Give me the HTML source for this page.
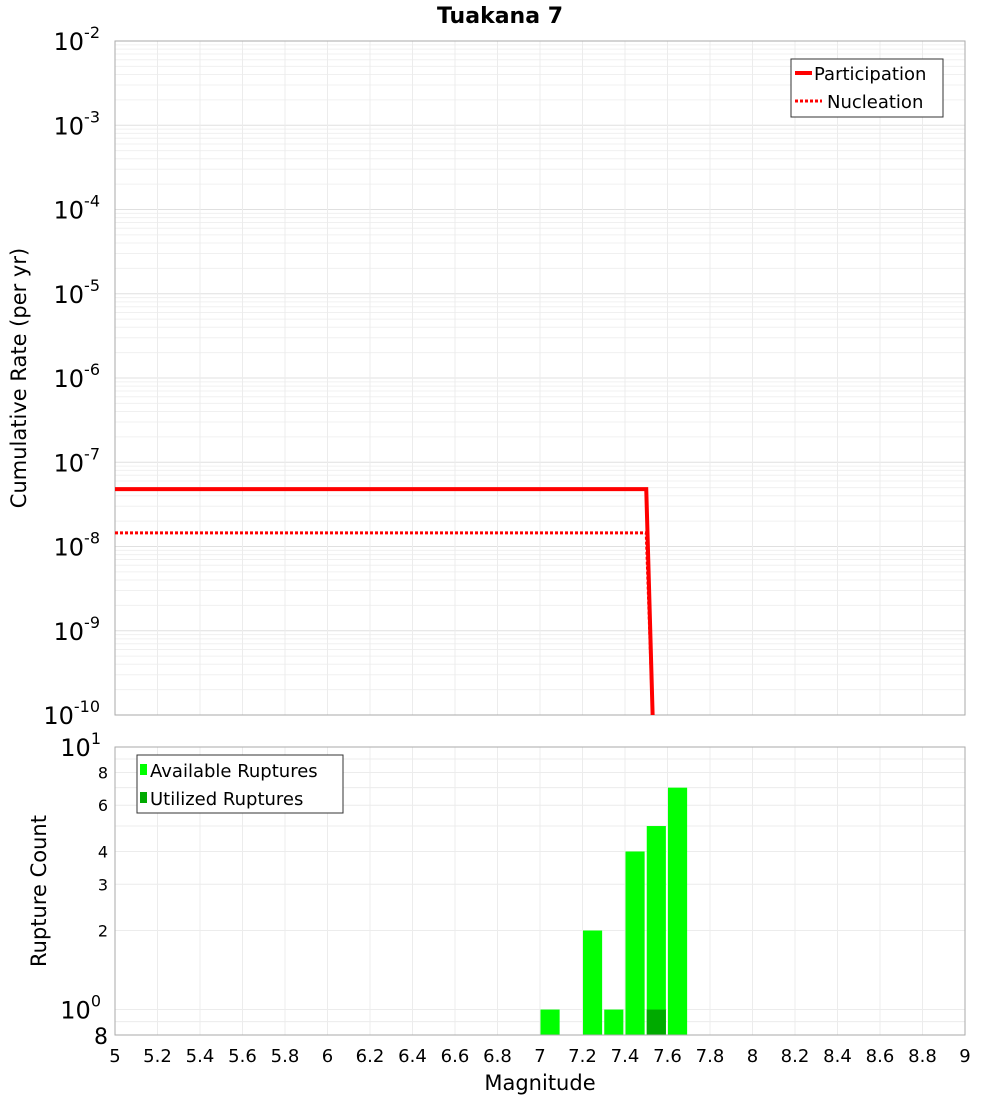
<!DOCTYPE html>
<html><head><meta charset="utf-8"><style>
body{margin:0;background:#fff;font-family:"Liberation Sans","DejaVu Sans",sans-serif}
</style></head><body>
<svg id="c" width="1000" height="1100" xmlns="http://www.w3.org/2000/svg" font-family="DejaVu Sans, Liberation Sans, sans-serif">
<text x="500" y="23" text-anchor="middle" font-size="22" font-weight="bold">Tuakana 7</text>
<g id="topg"></g>
<g id="botg"></g>
<text transform="translate(26,378) rotate(-90)" text-anchor="middle" font-size="21">Cumulative Rate (per yr)</text>
<text transform="translate(46,891) rotate(-90)" text-anchor="middle" font-size="21">Rupture Count</text>
<text x="540" y="1090" text-anchor="middle" font-size="21">Magnitude</text>
<g>
<rect x="791" y="59" width="152" height="58" fill="#fff" stroke="#333"/>
<line x1="795" y1="73" x2="812" y2="73" stroke="red" stroke-width="4"/>
<text x="814" y="80" font-size="18">Participation</text>
<line x1="795" y1="101" x2="822" y2="101" stroke="red" stroke-width="3" stroke-dasharray="3,2"/>
<text x="827" y="108" font-size="18">Nucleation</text>
</g>
<g>
<rect x="137" y="755" width="206" height="58" fill="#fff" stroke="#333"/>
<rect x="140" y="764" width="7" height="11" fill="#00ff00"/>
<text x="150" y="777" font-size="18">Available Ruptures</text>
<rect x="140" y="792" width="7" height="11" fill="#00aa00"/>
<text x="150" y="805" font-size="18">Utilized Ruptures</text>
</g>
</svg>
<script>
const partMag=[5.0,7.5,7.53];
const partRate=[4.8e-8,4.8e-8,1e-10];
const nuclMag=[5.0,7.5,7.53];
const nuclRate=[1.45e-8,1.45e-8,1e-10];
const binStart=[7.0,7.2,7.3,7.4,7.5,7.6];
const available=[1,2,1,4,5,7];
const utilized=[0,0,0,0,1,0];
const xTicks=[5,5.2,5.4,5.6,5.8,6,6.2,6.4,6.6,6.8,7,7.2,7.4,7.6,7.8,8,8.2,8.4,8.6,8.8,9];
const countTicks=[2,3,4,6,8];
const NS="http://www.w3.org/2000/svg";
const X0=115,X1=965;
const xs=m=>X0+(m-5)/4*(X1-X0);
const T0=41,T1=715;
const yT=v=>T1-(Math.log10(v)+10)/8*(T1-T0);
const B0=747,B1=1035;
const yB=v=>B1-(Math.log10(v)-Math.log10(0.8))/(1-Math.log10(0.8))*(B1-B0);
function el(p,t,a){const e=document.createElementNS(NS,t);for(const k in a)e.setAttribute(k,a[k]);p.appendChild(e);return e;}
const topG=document.getElementById('topg'),botG=document.getElementById('botg');
for(let d=-10;d<-2;d++)for(let k=1;k<10;k++){const v=k*Math.pow(10,d);const yy=yT(v);
const g=el(topG,'line',{x1:X0,x2:X1,y1:yy,y2:yy,stroke:k==1?'#e0e0e0':'#f0f0f0','stroke-width':1});
}
xTicks.forEach(t=>{const g=el(topG,'line',{x1:xs(t),x2:xs(t),y1:T0,y2:T1,stroke:'#ececec'});
});
for(let d=-10;d<=-2;d++){const yy=yT(Math.pow(10,d));
const t=el(topG,'text',{x:100,y:yy+9,'text-anchor':'end','font-size':24});

t.innerHTML='10<tspan dy="-12" font-size="16">'+d+'</tspan>';}
el(topG,'rect',{x:X0,y:T0,width:X1-X0,height:T1-T0,fill:'none',stroke:'#aaa'});
const ln=(m,r,dash)=>{const p=el(topG,'polyline',{points:m.map((v,i)=>xs(v)+','+yT(r[i])).join(' '),fill:'none',stroke:'red','stroke-width':dash?3:4});if(dash)p.setAttribute('stroke-dasharray','3,2');return p;};
const p1=ln(partMag,partRate,false);

const p2=ln(nuclMag,nuclRate,true);

for(let k=8;k<=18;k++){const v=k<10?k/10:(k-9);const yy=yB(v);
const g=el(botG,'line',{x1:X0,x2:X1,y1:yy,y2:yy,stroke:'#ececec'});
}
xTicks.forEach(t=>{const g=el(botG,'line',{x1:xs(t),x2:xs(t),y1:B0,y2:B1,stroke:'#ececec'});

const l=el(botG,'text',{x:xs(t),y:1062,'text-anchor':'middle','font-size':18});
l.textContent=t;});
countTicks.forEach(v=>{const l=el(botG,'text',{x:108,y:yB(v)+6,'text-anchor':'end','font-size':16});
l.textContent=v;});
[[1,'10','0'],[10,'10','1']].forEach(([v,b,e])=>{const l=el(botG,'text',{x:101,y:yB(v)+9,'text-anchor':'end','font-size':24});
l.innerHTML=b+'<tspan dy="-12" font-size="16">'+e+'</tspan>';});
const l8=el(botG,'text',{x:108,y:B1+9,'text-anchor':'end','font-size':22});
l8.textContent='8';
binStart.forEach((b,i)=>{const r=el(botG,'rect',{x:xs(b)+0.5,y:yB(available[i]),width:xs(b+0.09)-xs(b),height:B1-yB(available[i]),fill:'#00ff00'});

if(utilized[i]>0){const u=el(botG,'rect',{x:xs(b)+0.5,y:yB(utilized[i]),width:xs(b+0.09)-xs(b),height:B1-yB(utilized[i]),fill:'#00aa00'});
}});
el(botG,'rect',{x:X0,y:B0,width:X1-X0,height:B1-B0,fill:'none',stroke:'#aaa'});
</script>
</body></html>
